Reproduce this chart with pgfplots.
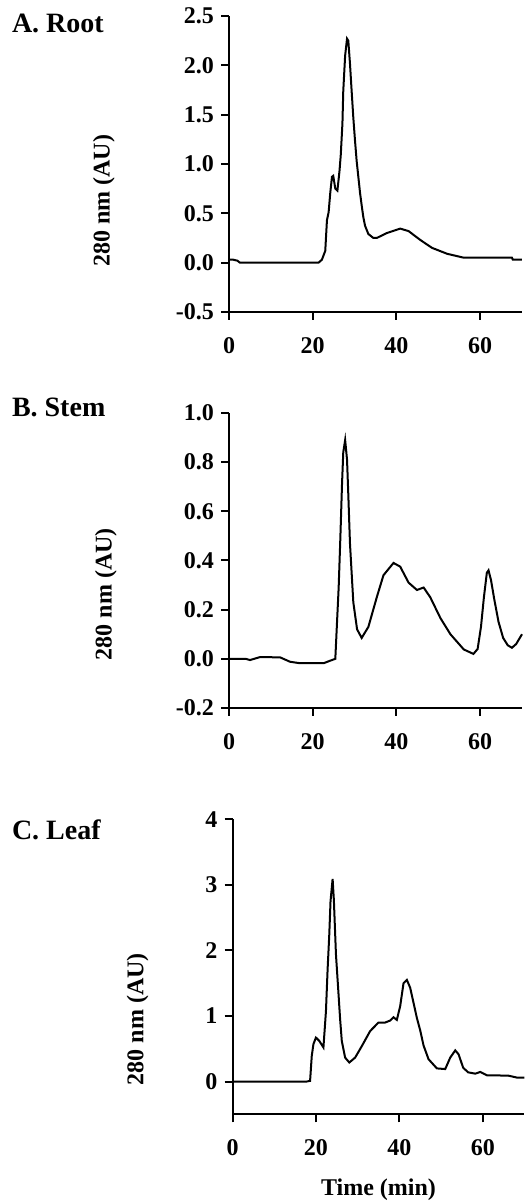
\documentclass[border=0pt]{standalone}
\usepackage{fontspec}
\setmainfont{Liberation Serif}
\usepackage{pgfplots}
\pgfplotsset{compat=1.18}

\pgfplotsset{
  panel/.style={
    scale only axis,
    width=146.5pt, height=148pt,
    axis lines=left,
    axis line style={-, line width=1pt},
    tick align=outside,
    major tick length=4pt,
    tick style={line width=1pt, black},
    xmin=0, xmax=70,
    xtick={0,20,40,60},
    xticklabels={0,20,40,60},
    ticklabel style={font=\fontsize{12}{14}\selectfont\bfseries},
    xticklabel style={yshift=-5pt},
    label style={font=\fontsize{12}{14}\selectfont\bfseries},
    ylabel={280 nm (AU)},
    clip=false,
  },
  trace/.style={black, line width=1pt, mark=none},
}

\begin{document}
\begin{tikzpicture}
\path[use as bounding box] (0,0) rectangle (263.5pt,601.5pt);

% A. Root
\begin{axis}[panel, at={(114.5pt,445.5pt)}, anchor=south west,
  ymin=-0.5, ymax=2.5,
  ytick={-0.5,0,0.5,1,1.5,2,2.5},
  yticklabels={-0.5,0.0,0.5,1.0,1.5,2.0,2.5},
  ylabel style={at={(axis description cs:-0.427,0.376)}, anchor=center},
]
\addplot[trace] coordinates {
(0,0.03)(1,0.03)(2,0.02)(2.6,0)(21.4,0)(22.2,0.03)(23.0,0.12)(23.4,0.43)
(23.8,0.51)(24.2,0.71)(24.6,0.87)(24.9,0.88)(25.4,0.75)(25.9,0.73)(26.4,0.93)
(26.7,1.09)(27.1,1.41)(27.3,1.74)(27.75,2.10)(28.2,2.27)(28.5,2.25)(28.9,2.02)
(29.3,1.74)(29.7,1.47)(30.1,1.24)(30.5,1.03)(30.9,0.87)(31.3,0.71)(31.7,0.58)
(32.1,0.46)(32.5,0.375)(33.3,0.29)(34.5,0.25)(35.3,0.25)(37.7,0.30)(40.9,0.345)
(42.9,0.32)(45.7,0.23)(48.5,0.15)(52.1,0.09)(56.1,0.05)(67.6,0.05)(67.8,0.03)(70,0.03)
};
\end{axis}

% B. Stem
\begin{axis}[panel, at={(114.5pt,247.5pt)}, anchor=south west, height=147.5pt,
  ymin=-0.2, ymax=1.0,
  ytick={-0.2,0,0.2,0.4,0.6,0.8,1.0},
  yticklabels={-0.2,0.0,0.2,0.4,0.6,0.8,1.0},
  ylabel style={at={(axis description cs:-0.42,0.386)}, anchor=center},
]
\addplot[trace] coordinates {
(0,0)(4,0)(5,-0.005)(6,0)(7.4,0.007)(12.2,0.006)(14.6,-0.012)(17,-0.018)
(22.6,-0.018)(23.8,-0.01)(24.6,-0.005)(25.4,0)(25.8,0.146)(26.2,0.29)(26.6,0.49)
(27.0,0.71)(27.3,0.84)(27.75,0.89)(28.2,0.81)(28.5,0.67)(28.9,0.47)(29.3,0.35)
(29.7,0.23)(30.6,0.12)(31.7,0.085)(33.3,0.13)(35.3,0.25)(36.9,0.34)(39.3,0.39)
(40.9,0.375)(42.9,0.31)(44.9,0.28)(46.5,0.29)(48.1,0.25)(50.5,0.166)(52.9,0.1)
(56.1,0.038)(58.4,0.02)(59.4,0.04)(60.2,0.13)(60.9,0.25)(61.6,0.35)(62.0,0.36)
(62.6,0.32)(63.4,0.24)(64.4,0.15)(65.5,0.085)(66.6,0.055)(67.6,0.045)(68.6,0.06)(70,0.1)
};
\end{axis}

% C. Leaf
\begin{axis}[panel, at={(116.25pt,44.35pt)}, anchor=south west,
  width=146pt, height=147.5pt,
  ymin=-0.5, ymax=4,
  ytick={0,1,2,3,4},
  yticklabels={0,1,2,3,4},
  ylabel style={at={(axis description cs:-0.325,0.322)}, anchor=center},
  xlabel={Time (min)},
  xlabel style={at={(axis description cs:0.5,-0.257)}, anchor=center},
]
\addplot[trace] coordinates {
(0,0)(17.8,0)(18.6,0.01)(19.0,0.39)(19.4,0.57)(20.0,0.67)(20.8,0.62)(21.8,0.52)
(22.4,1.07)(22.8,1.71)(23.2,2.24)(23.5,2.75)(24.0,3.09)(24.3,2.77)(24.8,1.94)
(25.4,1.35)(25.8,0.95)(26.2,0.62)(27.0,0.365)(28.0,0.29)(29.4,0.365)(31.0,0.54)
(33.0,0.77)(35.0,0.9)(36.6,0.9)(37.8,0.93)(38.6,0.98)(39.4,0.94)(40.2,1.15)
(41.0,1.5)(41.8,1.55)(42.6,1.43)(43.4,1.2)(44.2,0.97)(45.0,0.78)(45.8,0.55)
(47.0,0.34)(49.0,0.2)(51,0.19)(52.2,0.365)(53.4,0.475)(54.2,0.415)(55.3,0.21)
(56.5,0.14)(58.2,0.12)(59.4,0.146)(61.0,0.095)(66.1,0.09)(68.2,0.06)(70,0.06)
};
\end{axis}

\node[anchor=base west, inner sep=0pt, font=\fontsize{14}{16}\selectfont\bfseries] at (5.8pt,585.35pt) {A. Root};
\node[anchor=base west, inner sep=0pt, font=\fontsize{14}{16}\selectfont\bfseries] at (5.8pt,393.15pt) {B. Stem};
\node[anchor=base west, inner sep=0pt, font=\fontsize{14}{16}\selectfont\bfseries] at (5.8pt,181.5pt) {C. Leaf};
\end{tikzpicture}
\end{document}
